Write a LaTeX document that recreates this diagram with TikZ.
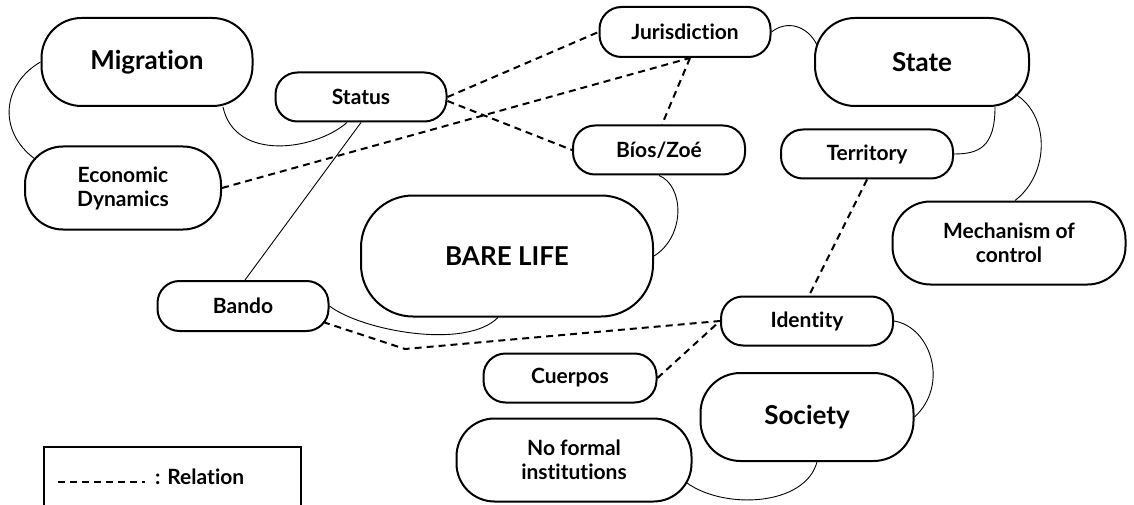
\documentclass[tikz,border=0pt]{standalone}
\usepackage{fontspec}
\setmainfont{Lato}[Ligatures=NoCommon]
\begin{document}
\begin{tikzpicture}[x=1pt,y=-1pt,
  pill/.style={draw, line width=2pt, inner sep=0pt, align=center,
    font=\fontsize{21}{24}\selectfont\bfseries},
  small/.style={pill, minimum width=171pt, minimum height=49pt, rounded corners=22pt},
  mid/.style={pill, rounded corners=38pt, minimum height=83pt},
  big/.style={pill, rounded corners=40pt, minimum height=88pt,
    font=\fontsize{26}{30}\selectfont\bfseries},
  link/.style={line width=0.9pt},
  rel/.style={line width=2pt, dash pattern=on 7pt off 5pt}]
\useasboundingbox[fill=white] (0,0) rectangle (1134,505);

\node[big, minimum width=211pt] (mig) at (147,62) {Migration};
\node[small] (status) at (361,97) {Status};
\node[mid, minimum width=196pt] (eco) at (123,188) {Economic\\Dynamics};
\node[small, minimum height=50pt] (jur) at (685,32) {Jurisdiction};
\node[small, minimum width=172pt] (bios) at (659,150) {Bíos/Zoé};
\node[big, minimum width=214pt] (state) at (922,62) {State};
\node[small, minimum width=172pt] (terr) at (867,154) {Territory};
\node[mid, minimum width=233pt] (mech) at (1009,243) {Mechanism of\\control};
\node[big, minimum width=292pt, minimum height=121pt, rounded corners=52pt] (bare) at (507,256) {BARE LIFE};
\node[small, minimum height=50pt] (bando) at (243,306) {Bando};
\node[small, minimum width=172pt] (ident) at (807,321) {Identity};
\node[small, minimum width=173pt] (cuer) at (570,378) {Cuerpos};
\node[big, minimum width=213pt] (soc) at (807,417) {Society};
\node[mid, minimum width=235pt] (nofi) at (574,460) {No formal\\institutions};

% legend
\node[draw, line width=2pt, minimum width=257pt, minimum height=90pt, anchor=north west, inner sep=0pt] (legend) at (43,446) {};
\coordinate (legA) at (58,482);
\coordinate (legB) at (145,482);
\draw[rel] (legA) -- (legB);
\node[anchor=west, inner sep=0pt, font=\fontsize{21}{24}\selectfont\bfseries] (legtxt) at (155,477) {: Relation};

% solid links
\draw[link] (mig.west) .. controls +(-38,22) and +(-38,-28) .. ([shift={(-88,-29)}]eco.center);
\draw[link] ([shift={(76,0)}]mig.south) .. controls +(12,55) and +(-32,28) .. ([shift={(-14,0)}]status.south);
\draw[link] (status.south) -- ([shift={(2,0)}]bando.north);
\draw[link] (jur.east) .. controls +(15,-12) and +(-10,-20) .. ([shift={(-105,-17)}]state.center);
\draw[link] ([shift={(73,0)}]state.south) .. controls +(0,40) and +(25,0) .. (terr.east);
\draw[link] ([shift={(93,32)}]state.center) .. controls +(35,21) and +(35,-27) .. ([shift={(6,0)}]mech.north);
\draw[link] (bios.south) .. controls +(25,10) and +(32,-20) .. (bare.east);
\draw[link] (bando.east) .. controls +(31,24) and +(-33,33) .. ([shift={(-9,0)}]bare.south);
\draw[link] (ident.east) .. controls +(37,6) and +(35,-32) .. (soc.east);
\draw[link] ([shift={(10,0)}]soc.south) .. controls +(-12,44) and +(38,27) .. ([shift={(113,23)}]nofi.center);

% relations
\draw[rel] (status.east) -- (jur.west);
\draw[rel] ([shift={(0,4)}]status.east) -- (bios.west);
\draw[rel] (eco.east) -- ([shift={(5,0)}]jur.south);
\draw[rel] ([shift={(5,0)}]jur.south) -- ([shift={(3,0)}]bios.north);
\draw[rel] (terr.south) -- ([shift={(2,0)}]ident.north);
\coordinate (kink) at (405,349);
\draw[rel] ([shift={(80,16)}]bando.center) -- (kink) -- (ident.west);
\draw[rel] (cuer.east) -- (ident.west);
\end{tikzpicture}
\end{document}
